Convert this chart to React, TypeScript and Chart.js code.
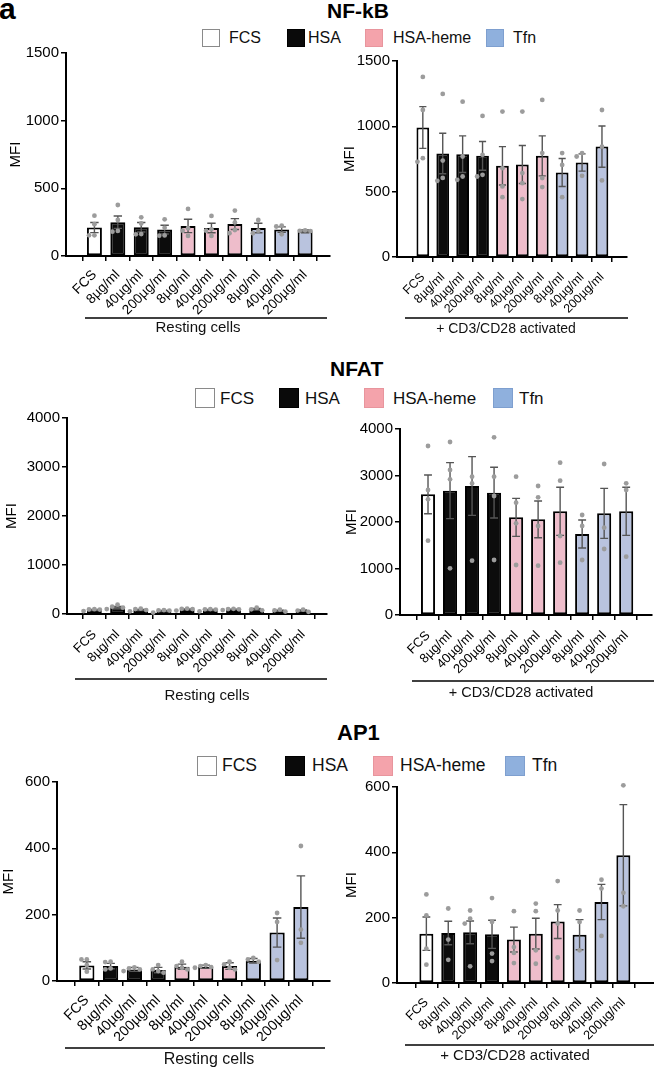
import React, { useEffect, useRef } from 'react';
import { Chart, registerables } from 'chart.js';

Chart.register(...registerables);

const FONT = '"Liberation Sans", Arial, Helvetica, sans-serif';
Chart.defaults.font.family = FONT;

// ---------- data ----------
const categories = ['FCS', '8µg/ml', '40µg/ml', '200µg/ml', '8µg/ml', '40µg/ml', '200µg/ml', '8µg/ml', '40µg/ml', '200µg/ml'];
const categoryGroup = [0, 1, 1, 1, 2, 2, 2, 3, 3, 3];
const legendLabels = ['FCS', 'HSA', 'HSA-heme', 'Tfn'];

const nfkbRestingMean = [210, 250, 212, 195, 222, 207, 236, 207, 195, 182];
const nfkbRestingSem = [37, 46, 35, 32, 49, 35, 40, 35, 20, 10];
const nfkbRestingPoints = [[298, 235, 153, 153], [377, 266, 185, 180], [286, 240, 162, 160], [271, 208, 152, 150], [348, 205, 187, 148], [296, 197, 187, 148], [336, 248, 192, 168], [266, 187, 168], [225, 218, 160], [190, 186, 184]];

const nfkbActivatedMean = [991, 792, 787, 774, 698, 708, 774, 647, 723, 845];
const nfkbActivatedSem = [160, 155, 140, 110, 147, 145, 153, 107, 66, 158];
const nfkbActivatedPoints = [[1378, 1125, 756, 728], [1248, 738, 605, 583], [1189, 769, 616, 591], [1080, 782, 629, 616], [1113, 680, 540, 458], [1113, 642, 565, 443], [1202, 795, 604, 535], [795, 705, 458], [795, 769, 621], [1125, 845, 586]];

const nfatRestingMean = [82, 136, 82, 61, 95, 82, 95, 95, 68, 68];
const nfatRestingSem = [10, 20, 12, 11, 9, 10, 5, 16, 12, 13];
const nfatRestingPoints = [[98, 92, 90, 60], [190, 150, 130, 100], [110, 100, 80, 55], [80, 75, 70, 30], [110, 105, 100, 70], [100, 95, 90, 55], [105, 100, 95, 80], [130, 95, 75], [90, 75, 50], [90, 70, 45]];

const nfatActivatedMean = [2595, 2674, 2774, 2631, 2100, 2057, 2229, 1742, 2186, 2229];
const nfatActivatedSem = [416, 602, 631, 545, 409, 395, 517, 301, 538, 517];
const nfatActivatedPoints = [[3634, 2688, 2487, 1599], [3720, 3118, 2918, 1004], [4120, 2975, 2830, 1168], [3821, 2975, 2559, 1183], [2975, 2416, 1971, 1075], [2774, 2530, 1914, 1061], [3276, 2889, 1699, 1125], [2151, 1914, 1183], [3247, 1878, 1419], [2832, 2688, 1254]];

const ap1RestingMean = [47, 45, 35, 33, 43, 43, 45, 61, 146, 223];
const ap1RestingSem = [11, 8, 6, 8, 8, 5, 10, 7, 44, 94];
const ap1RestingPoints = [[65, 65, 48, 28], [58, 57, 38, 35], [41, 38, 35, 30], [48, 35, 30, 25], [58, 45, 40, 35], [48, 45, 42, 40], [58, 50, 40, 35], [70, 65, 58], [205, 178, 63], [407, 155, 115]];

const ap1ActivatedMean = [151, 153, 155, 149, 133, 151, 188, 148, 248, 391];
const ap1ActivatedSem = [51, 36, 35, 43, 38, 47, 52, 46, 54, 155];
const ap1ActivatedPoints = [[271, 207, 105, 56], [228, 133, 71], [222, 197, 182, 51], [260, 187, 90, 67], [220, 110, 92, 61], [243, 220, 100, 59], [312, 222, 182, 78], [222, 187, 100], [316, 289, 144], [605, 276, 235]];

const rowTitles = ['NF-kB', 'NFAT', 'AP1'];
const groupTexts = ['Resting cells', '+ CD3/CD28 activated'];
const yAxisMax = [1500, 4000, 600];
const yAxisStep = [500, 1000, 200];

// ---------- style ----------
const barFills = ['#ffffff', '#0c0c0c', '#eebdcb', '#b9c3de'];
const legendFills = ['#ffffff', '#0a0a0a', '#f4a3ab', '#8fb0dd'];
const legendBorders = ['#8a8a8a', '#000000', '#e8959d', '#7e9fcf'];

type Geo = {
  left: number; top: number; w: number; h: number;
  axisX: number; yTop: number; yBot: number; xRight: number; titleX: number;
  xMin: number; xMax: number; xFont: number; xPad: number;
  lineX0: number; lineX1: number; lineY: number; labelX: number; labelY: number; labelFont: number;
};

const GEOS: Geo[] = [
  { left: 0, top: 40, w: 335, h: 305, axisX: 66, yTop: 53, yBot: 256, xRight: 330, titleX: 16, xMin: -0.65, xMax: 9.5, xFont: 13.6, xPad: 6, lineX0: 85, lineX1: 327, lineY: 318, labelX: 198, labelY: 328, labelFont: 15 },
  { left: 327, top: 40, w: 327, h: 305, axisX: 397, yTop: 61, yBot: 257, xRight: 627, titleX: 350, xMin: -0.72, xMax: 9.68, xFont: 12.3, xPad: 8, lineX0: 405, lineX1: 628, lineY: 318, labelX: 506, labelY: 329, labelFont: 14 },
  { left: 0, top: 405, w: 335, h: 300, axisX: 67, yTop: 418, yBot: 614, xRight: 327, titleX: 12, xMin: -0.62, xMax: 9.47, xFont: 13, xPad: 8, lineX0: 75, lineX1: 327, lineY: 679, labelX: 207, labelY: 696, labelFont: 15 },
  { left: 327, top: 405, w: 327, h: 300, axisX: 400, yTop: 429, yBot: 615, xRight: 652, titleX: 352, xMin: -0.7, xMax: 9.6, xFont: 13, xPad: 8, lineX0: 412, lineX1: 654, lineY: 681, labelX: 521, labelY: 693, labelFont: 14.5 },
  { left: 0, top: 770, w: 335, h: 300, axisX: 57, yTop: 782, yBot: 981, xRight: 330, titleX: 9, xMin: -0.68, xMax: 9.65, xFont: 14.3, xPad: 6, lineX0: 65, lineX1: 325, lineY: 1048, labelX: 209, labelY: 1060, labelFont: 16 },
  { left: 327, top: 770, w: 335, h: 300, axisX: 397, yTop: 787, yBot: 983, xRight: 656, titleX: 352, xMin: -0.75, xMax: 9.9, xFont: 12.8, xPad: 7, lineX0: 405, lineX1: 655, lineY: 1045, labelX: 515, labelY: 1056, labelFont: 15 },
];

const ROWS = [
  { titleX: 327, titleY: 10, titleFont: 21, legendY: 38, box: 18, textFont: 16, boxX: [202, 287, 365, 486], textX: [229, 308, 393, 513] },
  { titleX: 330, titleY: 368, titleFont: 21, legendY: 398, box: 20, textFont: 17, boxX: [195, 279, 364, 493], textX: [220, 305, 393, 519] },
  { titleX: 337, titleY: 733, titleFont: 22, legendY: 766, box: 20, textFont: 17.5, boxX: [197, 285, 373, 505], textX: [222, 312, 400, 532] },
];

type Series = { mean: number[]; sem: number[]; points: number[][] };

const PANELS: { s: Series; row: number; group: number }[] = [
  { s: { mean: nfkbRestingMean, sem: nfkbRestingSem, points: nfkbRestingPoints }, row: 0, group: 0 },
  { s: { mean: nfkbActivatedMean, sem: nfkbActivatedSem, points: nfkbActivatedPoints }, row: 0, group: 1 },
  { s: { mean: nfatRestingMean, sem: nfatRestingSem, points: nfatRestingPoints }, row: 1, group: 0 },
  { s: { mean: nfatActivatedMean, sem: nfatActivatedSem, points: nfatActivatedPoints }, row: 1, group: 1 },
  { s: { mean: ap1RestingMean, sem: ap1RestingSem, points: ap1RestingPoints }, row: 2, group: 0 },
  { s: { mean: ap1ActivatedMean, sem: ap1ActivatedSem, points: ap1ActivatedPoints }, row: 2, group: 1 },
];

function Panel({ s, geo, yMax, yStep, groupText }: { s: Series; geo: Geo; yMax: number; yStep: number; groupText: string }) {
  const ref = useRef<HTMLCanvasElement>(null);
  useEffect(() => {
    if (!ref.current) return;
    const X_H = 60;
    const titleFont = 15;
    const titleLH = titleFont * 1.2;
    const padTop = geo.yTop - geo.top;
    const padLeft = Math.max(0, geo.titleX - titleLH / 2 - geo.left);
    const yW = geo.axisX - geo.left - padLeft;
    const padRight = geo.left + geo.w - geo.xRight;
    const padBottom = geo.top + geo.h - geo.yBot - X_H;

    const overlay = {
      id: 'overlay',
      afterDatasetsDraw(chart: any) {
        const { ctx, chartArea } = chart;
        const xs = chart.scales.x;
        const ys = chart.scales.y;
        const meta = chart.getDatasetMeta(0);
        ctx.save();
        // error bars (mean ± SEM)
        s.mean.forEach((m, i) => {
          const x = xs.getPixelForValue(i);
          const bw = meta.data[i].width;
          const hw = bw * 0.28;
          const yHi = ys.getPixelForValue(m + s.sem[i]);
          const yLo = ys.getPixelForValue(Math.max(0, m - s.sem[i]));
          ctx.strokeStyle = '#555555';
          ctx.lineWidth = 1.4;
          ctx.beginPath();
          ctx.moveTo(x, yHi); ctx.lineTo(x, yLo);
          ctx.moveTo(x - hw, yHi); ctx.lineTo(x + hw, yHi);
          ctx.moveTo(x - hw, yLo); ctx.lineTo(x + hw, yLo);
          ctx.stroke();
        });
        // individual points, simple beeswarm
        const r = 2.4;
        const step = 5.4;
        ctx.fillStyle = '#9c9c9c';
        s.points.forEach((pts, i) => {
          const x = xs.getPixelForValue(i);
          const placed: { dx: number; y: number }[] = [];
          [...pts].sort((a, b) => b - a).forEach((v) => {
            const y = ys.getPixelForValue(v);
            if (y < chartArea.top - 3) return;
            const offsets = [0, -step, step, -2 * step, 2 * step];
            let dx = 0;
            for (const o of offsets) {
              if (placed.every((p) => Math.hypot(p.dx - o, p.y - y) >= 2 * r + 0.6)) { dx = o; break; }
            }
            placed.push({ dx, y });
            ctx.beginPath();
            ctx.arc(x + dx, y, r, 0, Math.PI * 2);
            ctx.fill();
          });
        });
        ctx.restore();
      },
      afterDraw(chart: any) {
        const { ctx } = chart;
        ctx.save();
        ctx.strokeStyle = '#000';
        ctx.lineWidth = 1.5;
        ctx.beginPath();
        ctx.moveTo(geo.lineX0 - geo.left, geo.lineY - geo.top);
        ctx.lineTo(geo.lineX1 - geo.left, geo.lineY - geo.top);
        ctx.stroke();
        ctx.fillStyle = '#111';
        ctx.font = `${geo.labelFont}px ${FONT}`;
        ctx.textAlign = 'center';
        ctx.textBaseline = 'middle';
        ctx.fillText(groupText, geo.labelX - geo.left, geo.labelY - geo.top);
        ctx.restore();
      },
    };

    const chart = new Chart(ref.current, {
      type: 'bar',
      data: {
        datasets: [{
          data: categories.map((_, i) => ({ x: i, y: s.mean[i] })) as any,
          backgroundColor: categoryGroup.map((g) => barFills[g]),
          borderColor: '#000',
          borderWidth: 2,
          borderSkipped: false,
          barPercentage: 0.64,
          categoryPercentage: 1,
        }],
      },
      options: {
        responsive: false,
        animation: false,
        events: [],
        layout: { padding: { left: padLeft, top: padTop, right: padRight, bottom: padBottom } },
        plugins: { legend: { display: false }, tooltip: { enabled: false } },
        scales: {
          x: {
            type: 'linear',
            min: geo.xMin,
            max: geo.xMax,
            afterBuildTicks: (sc: any) => { sc.ticks = categories.map((_, i) => ({ value: i })); },
            afterFit: (sc: any) => { sc.height = X_H; sc.paddingLeft = 0; sc.paddingRight = 0; },
            ticks: {
              callback: (v: any) => categories[Math.round(Number(v))],
              autoSkip: false,
              minRotation: 45,
              maxRotation: 45,
              color: '#000',
              padding: geo.xPad,
              font: { size: geo.xFont },
            },
            grid: { display: true, drawOnChartArea: false, drawTicks: true, tickLength: 5, color: '#000', lineWidth: 1.5 },
            border: { display: true, color: '#000', width: 2 },
          },
          y: {
            min: 0,
            max: yMax,
            afterFit: (sc: any) => { sc.width = yW; sc.paddingTop = 0; sc.paddingBottom = 0; },
            ticks: { stepSize: yStep, color: '#000', padding: 2, font: { size: 15 }, callback: (v: any) => String(v) },
            grid: { display: true, drawOnChartArea: false, drawTicks: true, tickLength: 5, color: '#000', lineWidth: 1.5 },
            border: { display: true, color: '#000', width: 2 },
            title: { display: true, text: 'MFI', color: '#000', padding: 0, font: { size: titleFont } },
          },
        },
      },
      plugins: [overlay],
    } as any);
    return () => chart.destroy();
  }, []);
  return (
    <canvas
      ref={ref}
      width={geo.w}
      height={geo.h}
      style={{ position: 'absolute', left: geo.left, top: geo.top, width: geo.w, height: geo.h }}
    />
  );
}

function Legend({ row }: { row: (typeof ROWS)[number] }) {
  return (
    <>
      {legendLabels.map((lab, i) => (
        <React.Fragment key={lab}>
          <div style={{
            position: 'absolute', left: row.boxX[i], top: row.legendY - row.box / 2,
            width: row.box, height: row.box, boxSizing: 'border-box',
            background: legendFills[i], border: `1px solid ${legendBorders[i]}`,
          }} />
          <div style={{
            position: 'absolute', left: row.textX[i], top: row.legendY, transform: 'translateY(-50%)',
            fontSize: row.textFont, lineHeight: 1, color: '#111', whiteSpace: 'nowrap',
          }}>{lab}</div>
        </React.Fragment>
      ))}
    </>
  );
}

export default function App() {
  return (
    <div style={{ position: 'absolute', left: 0, top: 0, width: 654, height: 1070, overflow: 'hidden', background: '#fff', fontFamily: FONT }}>
      <div style={{ position: 'absolute', left: -1, top: -6, fontSize: 30, fontWeight: 'bold', lineHeight: 1, color: '#000' }}>a</div>
      {ROWS.map((row, r) => (
        <React.Fragment key={r}>
          <div style={{
            position: 'absolute', left: row.titleX, top: row.titleY, transform: 'translateY(-50%)',
            fontSize: row.titleFont, fontWeight: 'bold', lineHeight: 1, color: '#000', whiteSpace: 'nowrap',
          }}>{rowTitles[r]}</div>
          <Legend row={row} />
        </React.Fragment>
      ))}
      {PANELS.map((p, i) => (
        <Panel key={i} s={p.s} geo={GEOS[i]} yMax={yAxisMax[p.row]} yStep={yAxisStep[p.row]} groupText={groupTexts[p.group]} />
      ))}
    </div>
  );
}
